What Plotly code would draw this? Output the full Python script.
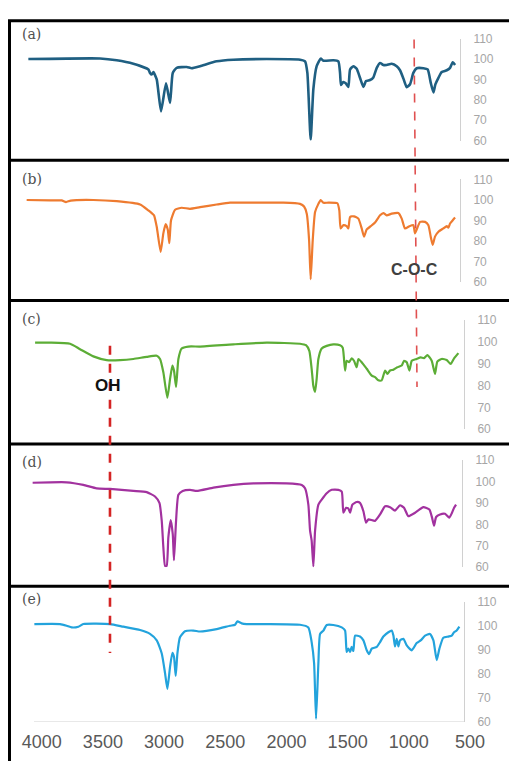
import plotly.graph_objects as go

W, H = 509, 768

# ---------------- data (wavenumber, transmittance %) ----------------
wn_a = [4109, 3523, 3387, 3251, 3128, 3115, 3101, 3087, 3060, 3025,
        2984, 2951, 2929, 2897, 2815, 2774, 2706, 2570, 2434, 2161,
        1889, 1848, 1829, 1802, 1780, 1753, 1720, 1698, 1617, 1576,
        1562, 1554, 1535, 1516, 1494, 1480, 1453, 1426, 1399, 1371,
        1350, 1317, 1290, 1262, 1235, 1208, 1181, 1140, 1099, 1072,
        1044, 1017, 990, 963, 936, 881, 846, 821, 799, 783,
        758, 731, 690, 663, 641, 622]
t_a = [100, 100.3, 99.4, 97.7, 94.9, 93.2, 92.4, 93.6, 90, 74.3,
       88.1, 78.5, 93.2, 95.7, 96.1, 95.5, 96.5, 98.9, 99.7, 100,
       99.7, 98.9, 93.2, 60.4, 85.2, 96.5, 100.2, 99.2, 99.4, 98.9,
       93.2, 87.3, 88.7, 88.1, 86.3, 94.9, 96.5, 95.2, 90.8, 86.3,
       89.2, 89.7, 91, 95.7, 98.1, 97.1, 97.1, 97.7, 96.5, 94.5,
       90.4, 86.2, 87.6, 93.2, 95.5, 95.5, 94.9, 88.4, 83.6, 87.6,
       90.8, 93.6, 94.5, 95.7, 98.4, 97.1]

wn_b = [4123, 3932, 3837, 3801, 3763, 3578, 3387, 3196, 3128, 3101,
        3082, 3060, 3028, 3006, 2987, 2970, 2957, 2943, 2910, 2856,
        2788, 2706, 2570, 2461, 2298, 2025, 1889, 1856, 1834, 1815,
        1802, 1785, 1766, 1739, 1720, 1698, 1657, 1584, 1568, 1557,
        1535, 1508, 1494, 1480, 1448, 1412, 1385, 1366, 1344, 1311,
        1276, 1235, 1208, 1181, 1140, 1085, 1058, 1031, 995, 963,
        949, 908, 867, 840, 821, 805, 786, 758, 718, 690,
        677, 663, 641, 622]
t_b = [100, 99.8, 99.8, 99.0, 99.7, 100, 99.4, 97.8, 94.9, 93.6,
       92.5, 86.9, 74.6, 83.7, 88.2, 85.6, 78.9, 90.1, 95.2, 96.2,
       95.7, 96.5, 97.8, 98.7, 98.7, 98.7, 98.1, 96.8, 93.3, 80.5,
       61.3, 80.5, 94.1, 98.1, 100, 98.6, 98.7, 98.4, 94.9, 86.1,
       87.7, 87.2, 86.1, 91.7, 92, 90.9, 86.1, 82.1, 85.6, 87.2,
       89, 92.5, 93.6, 92.5, 93.3, 93.6, 90.9, 86.1, 87.2, 87.7,
       83.7, 89.3, 89.3, 87.7, 82.1, 78.1, 82.1, 84.5, 86.1, 87.2,
       86.5, 88.5, 90.1, 91.4]

wn_c = [4054, 3932, 3768, 3687, 3578, 3469, 3360, 3251, 3142, 3060,
        3033, 3006, 2973, 2951, 2932, 2919, 2902, 2883, 2856, 2801,
        2706, 2434, 2161, 1889, 1840, 1813, 1794, 1780, 1766, 1753,
        1739, 1712, 1671, 1617, 1562, 1540, 1521, 1508, 1488, 1467,
        1448, 1426, 1412, 1385, 1344, 1303, 1276, 1249, 1222, 1194,
        1175, 1153, 1126, 1094, 1058, 1039, 1017, 995, 976, 936,
        903, 876, 848, 813, 786, 767, 731, 690, 658, 630,
        595]
t_c = [99.7, 99.7, 99.2, 96.7, 93.4, 91.7, 91.7, 92.2, 93.2, 93.7,
       92.2, 86.1, 74.4, 83.1, 89.2, 86.9, 79.4, 92.2, 97, 97.9,
       97.9, 98.9, 99.7, 99.2, 98.5, 95.9, 87.7, 79.8, 77.1, 83.1,
       92.2, 97, 98.2, 98.9, 98.5, 97.4, 86.9, 91.4, 90.7, 92.5,
       91.4, 88.4, 92.2, 90.7, 87.7, 84.6, 83.9, 82.4, 82.4, 86.9,
       85.4, 86.9, 87.3, 88.4, 89.2, 91.4, 90.7, 86.9, 91.4, 92.2,
       92.9, 92.6, 94, 91.4, 85.4, 91, 92.2, 91.7, 89.9, 92.5,
       94.9]

wn_d = [4074, 3796, 3660, 3551, 3442, 3251, 3142, 3074, 3038, 3019,
        3006, 2992, 2979, 2965, 2946, 2929, 2919, 2902, 2883, 2848,
        2788, 2733, 2597, 2434, 2270, 1998, 1875, 1848, 1821, 1807,
        1794, 1780, 1766, 1739, 1712, 1671, 1630, 1576, 1548, 1535,
        1513, 1494, 1480, 1461, 1426, 1399, 1371, 1350, 1330, 1276,
        1235, 1194, 1153, 1113, 1072, 1039, 1004, 949, 881, 832,
        810, 794, 777, 745, 704, 669, 647, 630, 614]
t_d = [99.5, 99.7, 98.5, 96.9, 96.6, 95.7, 95.1, 93.1, 90.1, 81.7,
       69.4, 60.6, 60.6, 74, 82, 75.5, 63.3, 81.7, 93.9, 95.7,
       96.2, 95.7, 97.2, 98.5, 99.2, 99.2, 98.5, 96.9, 89.3, 77.1,
       72.5, 60.4, 77.1, 89.3, 91.6, 94.6, 96.2, 96.2, 95.4, 85.5,
       87.8, 87.5, 85.5, 89.3, 90.5, 90.1, 86.2, 80.9, 82.4, 81.7,
       84.7, 88.5, 88.1, 86.5, 89, 87.8, 83.9, 85.5, 88.1, 87,
       83.2, 79.4, 83.5, 84.7, 85, 83.2, 85.5, 87.8, 89.3]

wn_e = [4060, 3850, 3796, 3755, 3700, 3660, 3442, 3333, 3196, 3115,
        3060, 3019, 2992, 2973, 2951, 2932, 2919, 2905, 2891, 2870,
        2829, 2761, 2706, 2570, 2461, 2420, 2401, 2366, 2325, 2161,
        1889, 1821, 1794, 1774, 1758, 1739, 1725, 1698, 1671, 1617,
        1548, 1521, 1508, 1494, 1480, 1467, 1453, 1439, 1399, 1371,
        1344, 1325, 1303, 1262, 1235, 1208, 1167, 1140, 1126, 1113,
        1099, 1085, 1072, 1044, 1017, 976, 936, 903, 867, 827,
        799, 772, 750, 718, 677, 649, 630, 609, 587]
t_e = [100.7, 100.7, 100, 99.3, 99.6, 100.7, 100.7, 99.6, 98.2, 96.6,
       93.9, 88.5, 80.3, 73.8, 83, 88.7, 87.1, 79.2, 88.5, 95.2,
       97.7, 98, 97.6, 98.6, 100, 100.4, 101.8, 101, 100.7, 100.7,
       100.4, 99.3, 93.2, 84.4, 61.3, 84.4, 96.6, 98, 100.3, 100.3,
       99.3, 98, 89.1, 90.5, 89.1, 91.2, 89.5, 95.9, 95.5, 93.9,
       89.8, 88.2, 90.5, 91.2, 93.2, 95.5, 97.3, 98, 95.9, 91.4,
       94.6, 91.4, 93.9, 94.6, 91.8, 89.8, 92.8, 93.9, 95.9, 96.6,
       93.9, 85.7, 90.5, 95, 95.5, 95.9, 97.3, 98, 99.6]

panel_labels = ["(a)", "(b)", "(c)", "(d)", "(e)"]
x_ticks = [4000, 3500, 3000, 2500, 2000, 1500, 1000, 500]
y_ticks = [60, 70, 80, 90, 100, 110]
y_range = [60, 110]
oh_band = 3442          # OH marker (cm-1)
coc_band = [957, 933]   # C-O-C marker, top and bottom
colors = ["#1f5f82", "#ee7b30", "#5cad36", "#a2329f", "#23a3dc"]

series = [(wn_a, t_a), (wn_b, t_b), (wn_c, t_c), (wn_d, t_d), (wn_e, t_e)]

# ---------------- layout geometry (pixels) ----------------
def px_x(p):
    return p / W

def px_y(p):
    return 1 - p / H

# (top of 110, bottom of 60, y-axis line x, label y)
panels = [(32.3, 136.0, 460, 28),
          (175.7, 280.0, 460, 175),
          (319.0, 430.0, 464, 318),
          (461.7, 570.7, 462, 463),
          (605.7, 728.3, 464, 603)]
frame_seps = [14, 156, 299, 445, 590]

# x axis scale: 4000 at px 41.7, 500 at px 470
k = (470 - 41.7) / 3500.0
x_left = 4000 + 41.7 / k
x_right = 4000 - (W - 41.7) / k

fig = go.Figure()
for i, ((xs, ys), col) in enumerate(zip(series, colors)):
    yname = "y" if i == 0 else f"y{i+1}"
    fig.add_trace(go.Scatter(x=xs, y=ys, mode="lines", xaxis="x", yaxis=yname,
                             line=dict(color=col, width=2.6 if i == 0 else 2.2,
                                       shape="spline", smoothing=0.5),
                             showlegend=False, hoverinfo="skip"))

layout = dict(
    width=W, height=H, autosize=False,
    margin=dict(l=0, r=0, t=0, b=0, pad=0),
    paper_bgcolor="white", plot_bgcolor="rgba(0,0,0,0)",
    xaxis=dict(domain=[0, 1], range=[x_left, x_right], anchor="free",
               position=px_y(735), tickmode="array", tickvals=x_ticks,
               showgrid=False, zeroline=False, showline=False, ticks="",
               tickfont=dict(family="Liberation Sans, Arial", size=18, color="#595959")),
)
annotations = []
shapes = []
for i, (top, bot, ax_x, lab_y) in enumerate(panels):
    key = "yaxis" if i == 0 else f"yaxis{i+1}"
    layout[key] = dict(domain=[px_y(bot), px_y(top)], range=y_range,
                       anchor="free", position=px_x(ax_x), side="right",
                       tickmode="array", tickvals=y_ticks,
                       showgrid=False, zeroline=False,
                       showline=True, linecolor="#d0d0d0", linewidth=1,
                       ticks="outside", ticklen=10, tickcolor="rgba(0,0,0,0)",
                       tickfont=dict(family="Liberation Sans, Arial", size=12, color="#a6a6a6"))
    annotations.append(dict(text=panel_labels[i], xref="paper", yref="paper",
                            x=px_x(20), y=px_y(lab_y), xanchor="left", yanchor="middle",
                            showarrow=False,
                            font=dict(family="DejaVu Serif", size=14, color="#505050")))

# bottom axis line of panel (e)
shapes.append(dict(type="line", xref="x", yref="y5", x0=4063, x1=549, y0=60, y1=60,
                   line=dict(color="#d0d0d0", width=1)))

# frame
shapes.append(dict(type="line", xref="paper", yref="paper", x0=px_x(9.5), x1=px_x(9.5),
                   y0=px_y(frame_seps[0]), y1=0, line=dict(color="black", width=3)))
for s in frame_seps:
    shapes.append(dict(type="line", xref="paper", yref="paper", x0=px_x(8), x1=1,
                       y0=px_y(s), y1=px_y(s), line=dict(color="black", width=3)))

# marker lines
shapes.append(dict(type="line", xref="x", yref="paper", x0=oh_band, x1=oh_band,
                   y0=px_y(345), y1=px_y(658),
                   line=dict(color="#d42424", width=2.6, dash="dash")))
shapes.append(dict(type="line", xref="x", yref="paper", x0=coc_band[0], x1=coc_band[1],
                   y0=px_y(33), y1=px_y(387),
                   line=dict(color="#e05050", width=1.6, dash="dash")))

annotations.append(dict(text="<b>C-O-C</b>", xref="x", yref="paper", x=955, y=px_y(267),
                        showarrow=False, xanchor="center", yanchor="middle",
                        font=dict(family="Liberation Sans, Arial", size=16, color="#404040")))
annotations.append(dict(text="<b>OH</b>", xref="x", yref="paper", x=3455, y=px_y(386),
                        showarrow=False, xanchor="center", yanchor="middle",
                        font=dict(family="Liberation Sans, Arial", size=17, color="#111111")))

layout["annotations"] = annotations
layout["shapes"] = shapes
fig.update_layout(**layout)
fig.write_html("out.html", config={"displayModeBar": False},
               post_script="document.body.style.margin='0';document.body.style.padding='0';"
                           "document.body.style.overflow='hidden';")
